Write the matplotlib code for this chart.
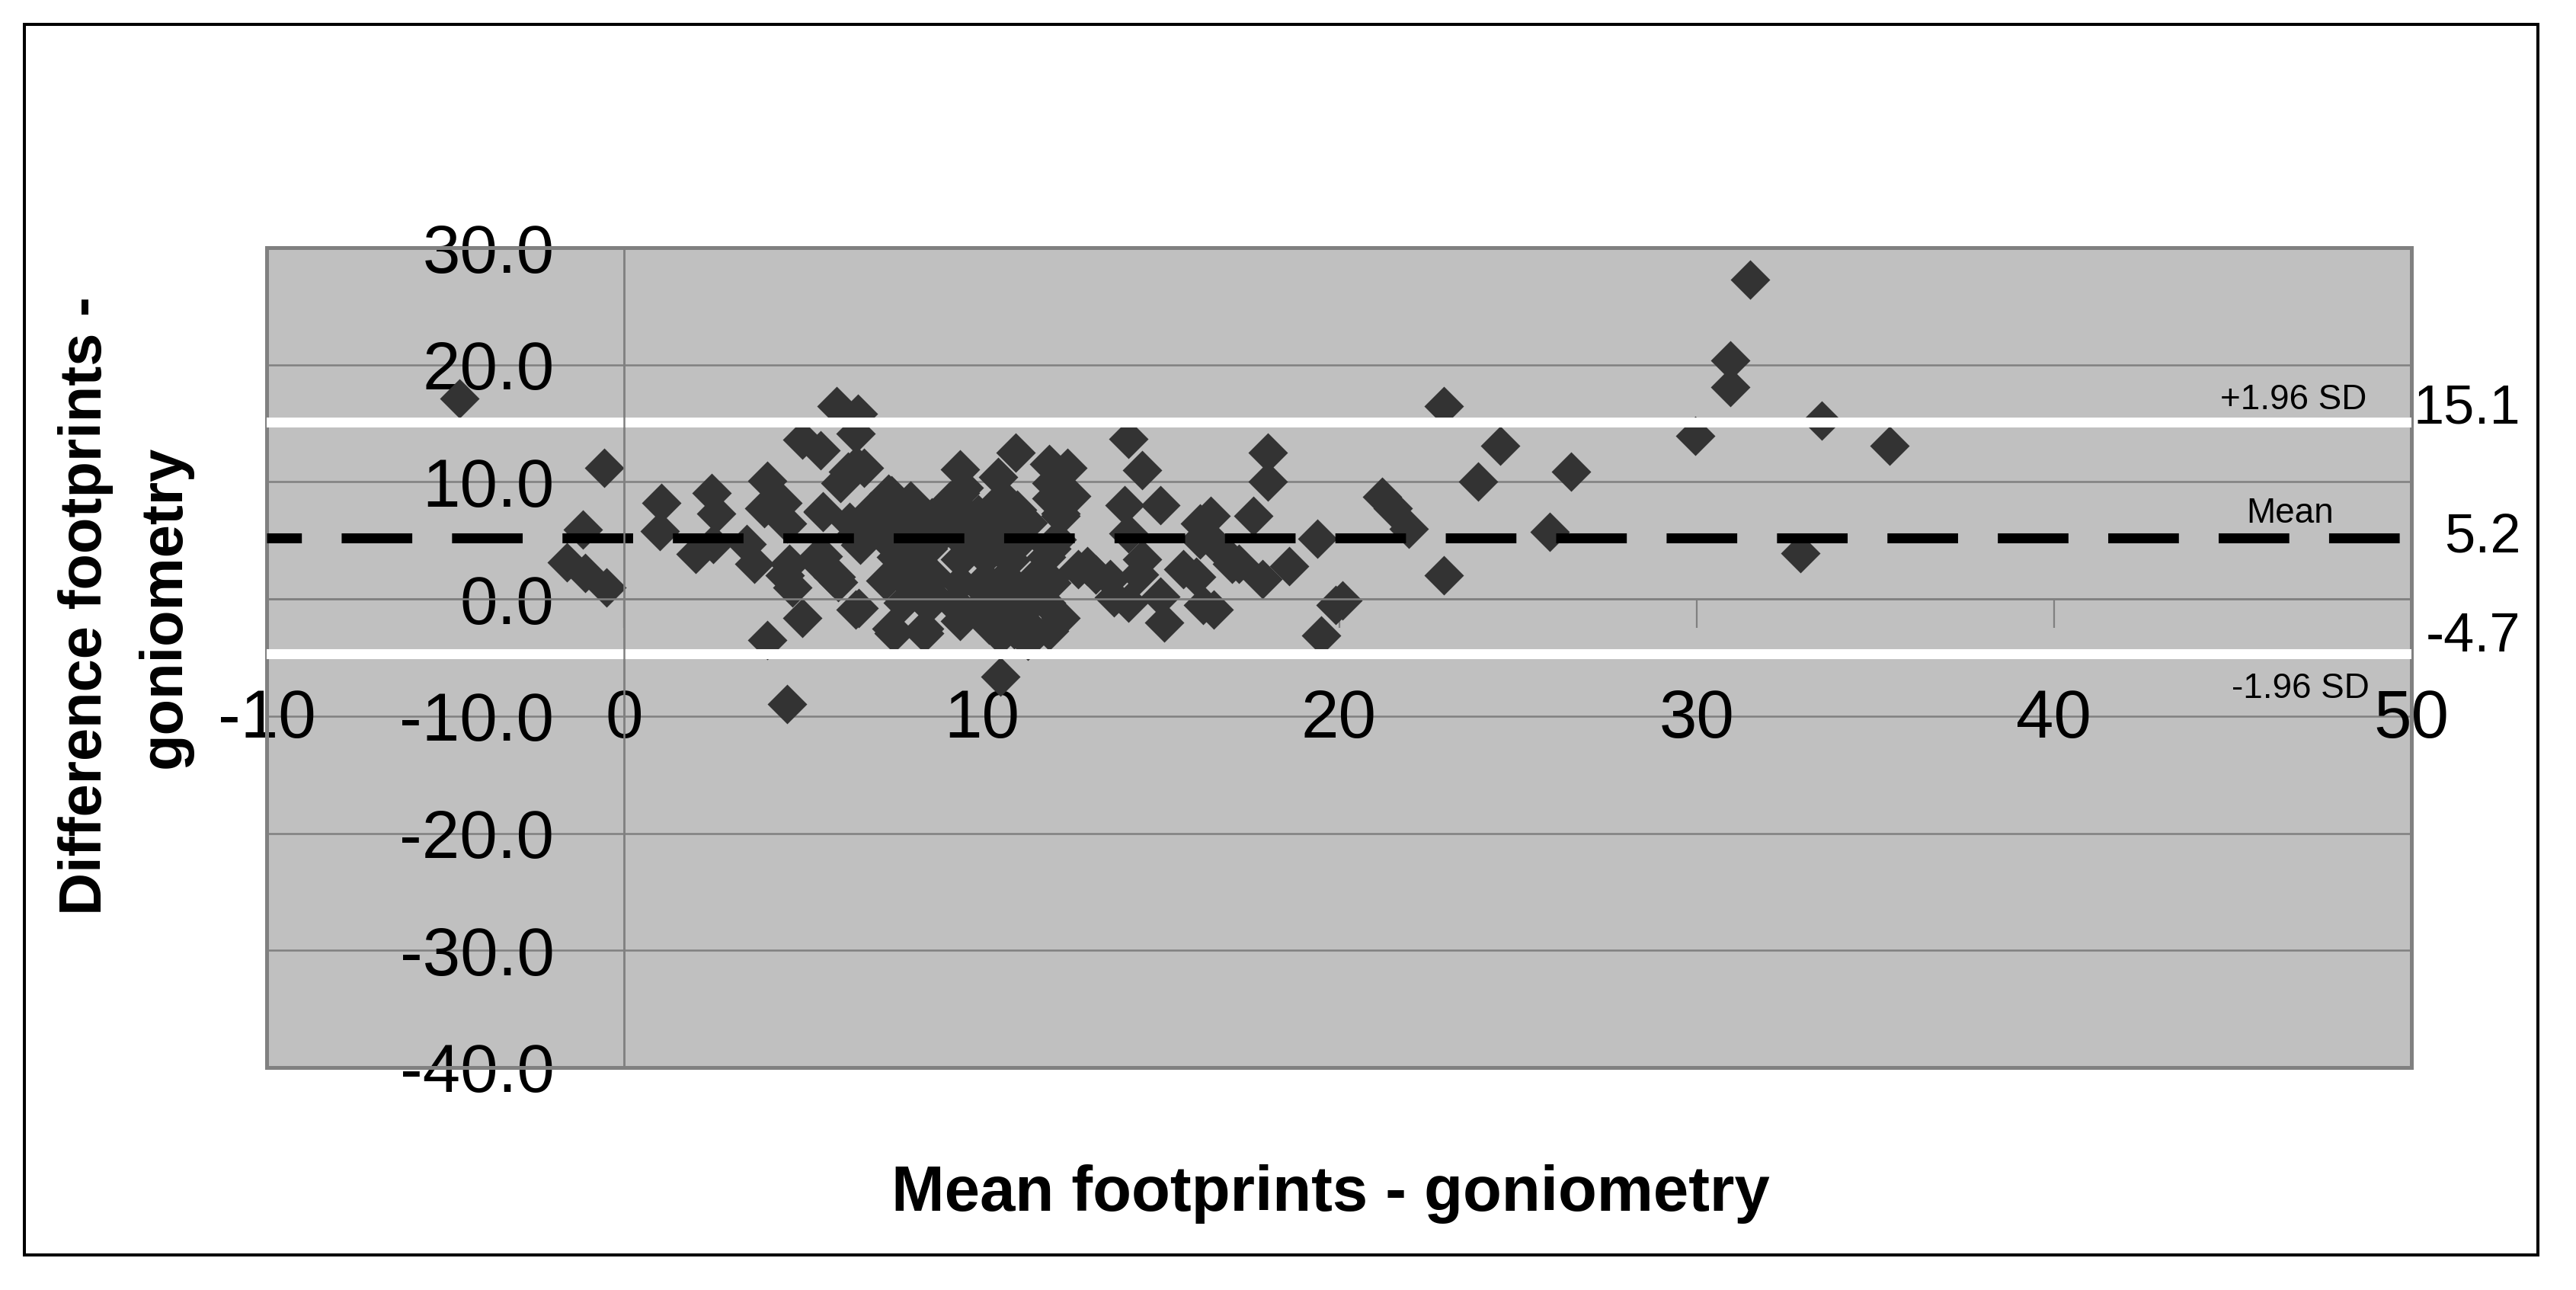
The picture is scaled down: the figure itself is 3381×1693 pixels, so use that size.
import matplotlib
matplotlib.use("Agg")
import matplotlib.pyplot as plt
from matplotlib.patches import Rectangle

plt.rcParams['font.family'] = ['Liberation Sans', 'DejaVu Sans']
plt.rcParams['axes.unicode_minus'] = False

# ---- data ----
mean_vals = [
    -4.6, -0.55, -1.15, -1.6, -1.1, -0.5,
    1.05, 1.0, 2.44, 2.58, 2.0, 2.5,
    5.95, 6.55, 6.48, 4.99, 5.49, 6.27, 6.7, 4.0, 3.92, 4.56, 5.56, 3.43, 3.64,
    4.7, 4.63, 5.84, 5.34, 5.98, 4.99, 6.48, 4.0, 7.55, 8.4, 10.53, 4.56, 10.53,
    9.4, 10.96, 9.25, 9.5, 10.67, 10.46, 4.42, 6.3, 4.5,
    7.4, 8.0, 6.9, 7.6, 8.4, 9.2, 6.5, 7.2, 7.9, 8.6, 9.3, 10.0, 10.7, 11.3,
    7.6, 8.2, 9.4, 10.1, 10.8, 7.3, 8.0, 8.7, 9.4, 10.1, 10.8, 11.4,
    7.8, 8.5, 9.2, 9.9, 10.6, 11.2, 9.4, 10.2, 10.9, 11.3, 11.0, 9.9,
    5.57, 6.06, 6.49, 7.48, 8.05, 8.6, 9.0, 9.12, 9.4, 9.4, 10.5, 10.25,
    11.96, 12.2, 11.9, 5.57, 5.92, 7.63, 8.55, 9.4, 10.1, 10.68,
    6.56, 7.48, 8.4, 10.5, 11.96, 12.2, 11.4, 11.8,
    6.6, 7.5, 8.5, 9.5, 10.4, 11.1,
    14.1, 14.5, 18.0, 18.0, 12.4, 11.96, 12.5, 12.2, 14.0, 15.0, 14.1, 16.4,
    16.1, 17.6, 19.4, 11.96, 12.95, 13.6, 14.5, 14.1, 15.0, 15.1, 16.0, 16.5,
    17.0, 17.85, 18.6, 19.5, 19.9, 11.8, 11.9, 11.9, 13.2, 13.7, 12.7, 14.4,
    16.1, 16.6, 17.2, 15.65, 16.2, 12.1,
    20.1, 21.2, 21.5, 21.96, 22.94, 22.94, 23.9, 24.5, 25.9, 26.5,
    29.96, 30.94, 30.94, 31.5, 32.9, 33.5, 35.4,
]
diff_vals = [
    17.1, 11.2, 5.9, 3.1, 2.2, 1.0,
    8.2, 5.8, 9.06, 7.3, 3.86, 4.7,
    16.5, 15.8, 14.15, 13.6, 12.7, 10.9, 11.2, 10.1, 7.75, 6.45, 7.5, 4.7, 3.0,
    1.0, 3.0, 1.9, 3.4, 1.45, -1.6, -0.9, -3.5, -2.9, -2.9, -3.1, -8.95, -6.6,
    11.1, 12.5, 8.2, 9.5, 8.4, 10.4, 8.2, 6.6, 2.0,
    9.0, 8.4, 7.5, 7.3, 7.0, 8.1, 5.6, 5.5, 5.6, 5.4, 5.8, 5.2, 5.6, 6.5,
    3.6, 3.3, 3.4, 3.6, 3.3, 1.6, 1.5, 1.8, 1.4, 1.7, 1.2, 1.6,
    -0.3, -0.5, -0.4, -0.8, -0.6, -0.9, -1.9, -2.2, -2.6, -3.6, 7.6, 7.2,
    7.4, 9.9, 11.4, 8.85, 8.0, 7.0, 5.9, 8.4, 9.06, 7.35, 8.4, 7.1,
    8.6, 7.3, 11.5, 3.64, 1.9, 2.34, 0.6, -0.7, 0.6, 1.9,
    -0.8, -2.5, -2.5, -2.5, 1.4, -1.6, -2.5, 3.6,
    4.6, 4.9, 4.3, 4.8, 4.6, 5.0,
    13.7, 11.0, 12.5, 10.0, 11.2, 9.9, 8.8, 7.1, 8.0, 8.0, 5.6, 7.1,
    5.1, 7.1, 5.15, 4.3, 2.8, 1.7, 3.4, -0.3, 0.2, -2.0, 1.9, -0.9,
    3.0, 1.7, 2.8, -3.1, -0.5, -0.3, -2.7, 1.7, 2.1, 0.15, 2.55, 2.1,
    6.45, 4.5, 3.0, 2.55, -0.5, 5.1,
    -0.1, 8.75, 7.75, 6.0, 16.5, 2.0, 10.0, 13.1, 5.75, 10.9,
    13.9, 20.4, 18.1, 27.25, 3.9, 15.25, 13.1,
]

limit_values = [15.1, 5.2, -4.7]
limit_names = ['+1.96 SD', 'Mean', '-1.96 SD']

x_ticks = [-10, 0, 10, 20, 30, 40, 50]
x_tick_labels = ['-10', '0', '10', '20', '30', '40', '50']
y_ticks = [-40, -30, -20, -10, 0, 10, 20, 30]
y_tick_labels = ['-40.0', '-30.0', '-20.0', '-10.0', '0.0', '10.0', '20.0', '30.0']

x_title = 'Mean footprints - goniometry'
y_title_lines = ['Difference footprints -', 'goniometry']

# ---- figure ----
W, H = 3381, 1693
fig = plt.figure(figsize=(W / 100, H / 100), dpi=100)
fig.patch.set_facecolor('white')

ax = fig.add_axes([350 / W, 1 - 1401 / H, (3165 - 350) / W, (1401 - 325) / H])
ax.set_facecolor('#C0C0C0')
ax.set_xlim(-10, 50)
ax.set_ylim(-40, 30)

grid_c = '#808080'
for yv in y_ticks:
    ax.axhline(yv, color=grid_c, lw=1.8, zorder=1)
ax.axvline(0, color=grid_c, lw=1.8, zorder=1)

for s in ['top', 'right']:
    ax.spines[s].set_visible(False)
ax.spines['bottom'].set_position(('data', 0))
ax.spines['left'].set_position(('data', 0))
ax.spines['bottom'].set_color(grid_c)
ax.spines['left'].set_color(grid_c)
ax.spines['bottom'].set_linewidth(1.8)
ax.spines['left'].set_linewidth(1.8)

ax.set_xticks(x_ticks)
ax.set_xticklabels(x_tick_labels)
ax.set_yticks(y_ticks)
ax.set_yticklabels(y_tick_labels)
ax.tick_params(axis='x', direction='out', length=27, width=1.6, color=grid_c,
               pad=57, labelsize=64, labelcolor='black')
ax.tick_params(axis='y', length=0, pad=66, labelsize=64, labelcolor='black')

# plot-area border
ax.add_patch(Rectangle((0, 0), 1, 1, transform=ax.transAxes, fill=False,
                       ec=grid_c, lw=3.6, zorder=2.1, clip_on=False))

# points
ax.plot(mean_vals, diff_vals, ls='none', marker='D', ms=26,
        mfc='#333333', mec='none', zorder=2)

# limit lines
ax.axhline(limit_values[0], color='white', lw=9.4, zorder=2.2)
ax.axhline(limit_values[2], color='white', lw=9.4, zorder=2.2)
ax.axhline(limit_values[1], color='black', lw=9.4, ls=(3.6, (7.1, 4.0)),
           dash_capstyle='butt', zorder=2.3)

# limit labels inside
ax.text(46.7, 16.2, limit_names[0], ha='center', va='baseline', fontsize=33, zorder=3)
ax.text(46.6, 6.5, limit_names[1], ha='center', va='baseline', fontsize=33, zorder=3)
ax.text(46.9, -8.45, limit_names[2], ha='center', va='baseline', fontsize=33, zorder=3)

# limit values to the right
for val, yb in zip(limit_values, [15.0, 4.0, -4.5]):
    ax.text(53.06, yb, f'{val:.1f}', ha='right', va='baseline', fontsize=52,
            clip_on=False, zorder=3)

# axis titles
fig.text(1746 / W, 1 - 1567 / H, x_title, ha='center', va='center',
         fontsize=60, fontweight='bold')
fig.text(113 / W, 1 - 795 / H, y_title_lines[0], ha='center', va='center',
         rotation=90, fontsize=56, fontweight='bold')
fig.text(216 / W, 1 - 796 / H, y_title_lines[1], ha='center', va='center',
         rotation=90, fontsize=56, fontweight='bold')

# outer frame
fig.patches.append(Rectangle((32 / W, 1 - 1647 / H), (3331 - 32) / W, (1647 - 32) / H,
                             transform=fig.transFigure, fill=False, ec='black',
                             lw=2.9, zorder=5))

fig.savefig('out.png', dpi=100, facecolor='white')
